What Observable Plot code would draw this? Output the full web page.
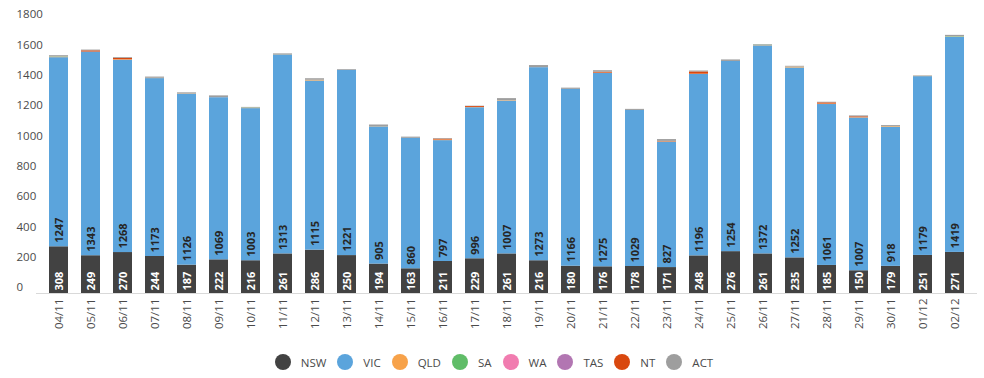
<!DOCTYPE html>
<html><head><meta charset="utf-8">
<script src="https://cdn.jsdelivr.net/npm/d3@7"></script>
<script src="https://cdn.jsdelivr.net/npm/@observablehq/plot@0.6"></script>
<style>
body{margin:0;background:#fff;font-family:"Open Sans",sans-serif}
#legend{display:flex;justify-content:center;align-items:center;margin-top:14px;height:16px;font-size:11.5px;color:#4a4a4a;padding-left:4px}
.item{display:flex;align-items:center;margin:0 5.5px}
.sw{width:16px;height:16px;border-radius:50%;margin-right:10px}
</style></head>
<body><div id="chart"></div><div id="legend"></div>
<script>
const dates = ["04/11","05/11","06/11","07/11","08/11","09/11","10/11","11/11","12/11","13/11","14/11","15/11","16/11","17/11","18/11","19/11","20/11","21/11","22/11","23/11","24/11","25/11","26/11","27/11","28/11","29/11","30/11","01/12","02/12"];
const nsw = [308,249,270,244,187,222,216,261,286,250,194,163,211,229,261,216,180,176,178,171,248,276,261,235,185,150,179,251,271];
const vic = [1247,1343,1268,1173,1126,1069,1003,1313,1115,1221,905,860,797,996,1007,1273,1166,1275,1029,827,1196,1254,1372,1252,1061,1007,918,1179,1419];
const qld = [3,0,3,2,2,0,2,2,5,0,2,0,4,2,3,0,0,2,0,2,2,0,2,6,3,2,4,2,2];
const sa  = [2,0,0,0,0,0,2,0,0,0,0,0,0,0,0,0,0,0,0,0,0,0,2,0,0,0,0,0,2];
const wa  = [0,0,0,0,0,0,0,0,0,0,0,0,0,0,0,0,0,0,0,0,0,0,0,0,0,0,0,0,0];
const tas = [0,0,0,0,0,0,0,0,0,0,0,0,0,0,0,0,0,0,0,0,0,0,0,0,0,0,0,0,0];
const nt  = [0,8,10,0,0,0,0,0,0,0,0,0,6,6,0,0,0,6,0,3,15,0,0,0,8,6,0,0,0];
const act = [8,5,5,8,8,12,4,4,10,5,10,8,4,2,14,14,8,10,7,12,6,10,4,5,4,6,6,3,8];
const series = ["NSW","VIC","QLD","SA","WA","TAS","NT","ACT"];
const colors = ["#424242","#5BA4DC","#F7A24A","#60BD68","#F17CB0","#B276B2","#D9480F","#9E9E9E"];
const yTicks = [0,200,400,600,800,1000,1200,1400,1600,1800];

const valuesBySeries = [nsw,vic,qld,sa,wa,tas,nt,act];
const data = [];
dates.forEach((d,i) => valuesBySeries.forEach((arr,k) => data.push({date:d, state:series[k], value:arr[i]})));
const rows = dates.map((d,i) => ({date:d, nsw:nsw[i], vic:vic[i]}));

const chart = Plot.plot({
  width: 984, height: 340,
  marginLeft: 36, marginRight: 7, marginTop: 20, marginBottom: 47,
  style: {fontFamily: '"Open Sans", sans-serif', color: "#4a4a4a", background: "#fff"},
  x: {domain: dates, padding: 0.4, label: null},
  y: {domain: [0,1800], label: null},
  color: {domain: series, range: colors},
  marks: [
    Plot.barY(data, {x: "date", y: "value", fill: "state"}),
    Plot.ruleY([0], {stroke: "#d9d9d9"}),
    Plot.axisY({ticks: yTicks, tickFormat: d => String(d), tickSize: 0, tickPadding: 20, textAnchor: "start", dy: -6, fontSize: 11.5, label: null}),
    Plot.axisX({tickRotate: -90, tickSize: 0, tickPadding: 5, fontSize: 11.5, label: null}),
    Plot.text(rows, {x: "date", y: () => 0, text: d => String(d.nsw), rotate: -90, textAnchor: "start", dy: -3, fill: "white", fontSize: 11, fontWeight: "bold"}),
    Plot.text(rows, {x: "date", y: "nsw", text: d => String(d.vic), rotate: -90, textAnchor: "start", dy: -4, fill: "#262626", fontSize: 11, fontWeight: "bold"})
  ]
});
document.getElementById("chart").appendChild(chart);

const legend = document.getElementById("legend");
series.forEach((s,k) => {
  const it = document.createElement("div"); it.className = "item";
  const sw = document.createElement("div"); sw.className = "sw"; sw.style.background = colors[k];
  const tx = document.createElement("span"); tx.textContent = s;
  it.appendChild(sw); it.appendChild(tx); legend.appendChild(it);
});
</script></body></html>
